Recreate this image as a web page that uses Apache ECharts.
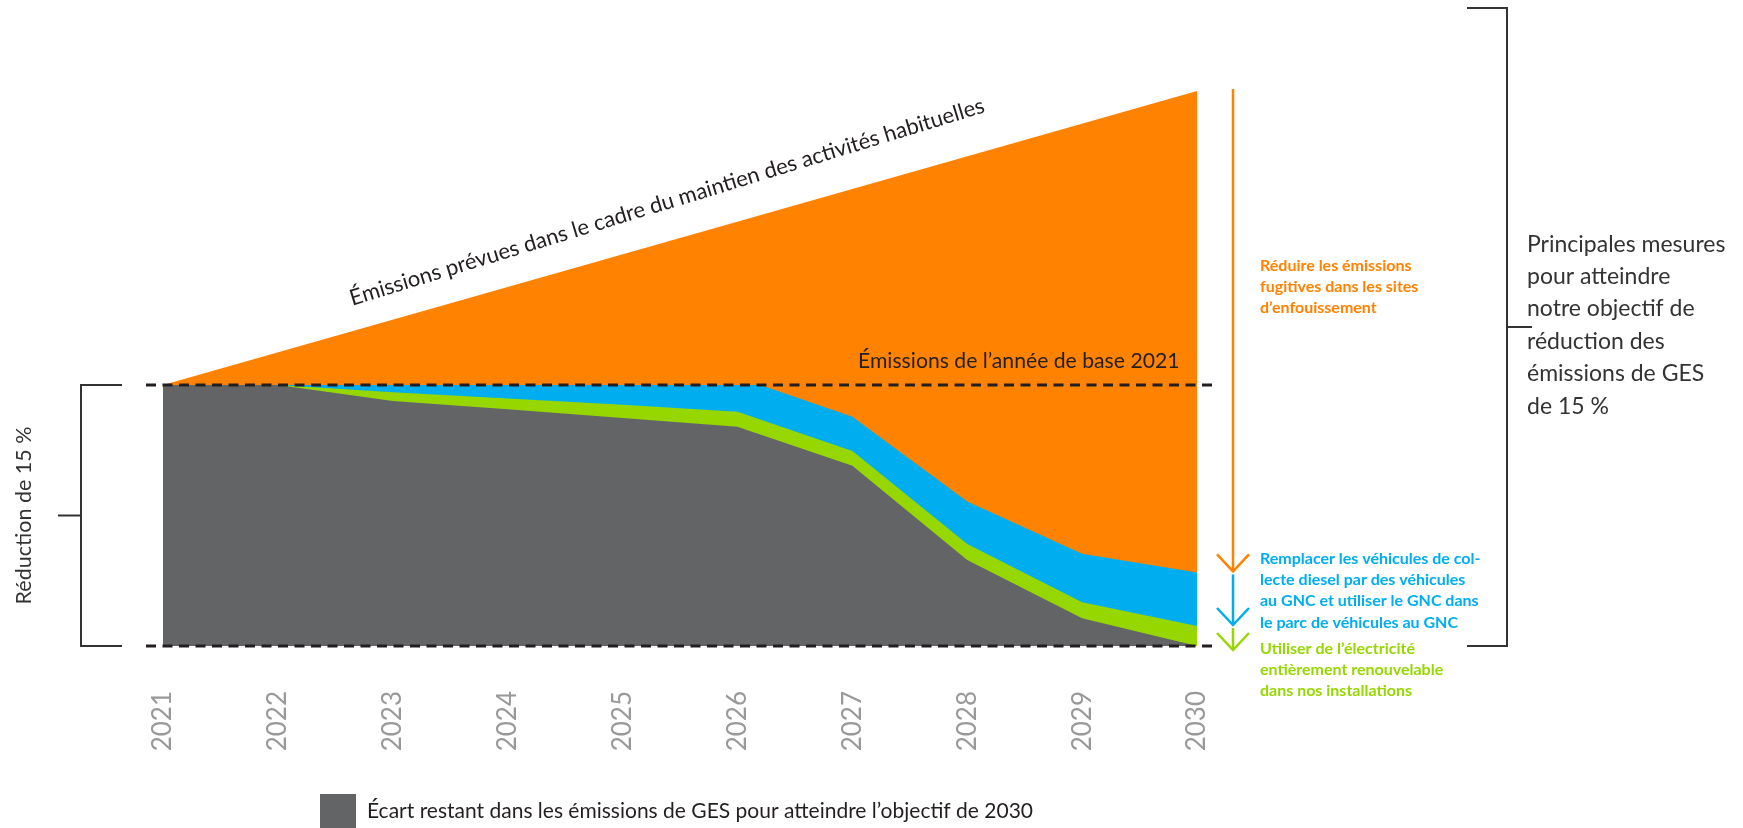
<!DOCTYPE html>
<html>
<head>
<meta charset="utf-8">
<script src="https://cdn.jsdelivr.net/npm/echarts@6/dist/echarts.min.js"></script>
<style>html,body{margin:0;padding:0;background:#fff}#c{width:1743px;height:828px}</style>
</head>
<body>
<div id="c"></div>
<script>
// ---- data ----
const years = [2021, 2022, 2023, 2024, 2025, 2026, 2027, 2028, 2029, 2030];
const grayValues  = [100, 100, 99.08, 98.60, 98.10, 97.60, 95.36, 89.94, 86.59, 85.00];
const greenValues = [100, 100, 99.58, 99.22, 98.86, 98.46, 96.21, 90.86, 87.51, 86.15];
const blueValues  = [100, 100, 100, 100, 100, 100, 98.18, 93.31, 90.30, 89.23];
const blueLeaveBase = [2026.2, 100];
const orangeYears = [2021, 2030];
const orangeValues = [100, 116.9];
const baseValue = 100;
const targetValue = 85;

const gapName = 'Écart restant dans les émissions de GES pour atteindre l’objectif de 2030';
const orangeLabel = 'Réduire les émissions\nfugitives dans les sites\nd’enfouissement';
const blueLabel = 'Remplacer les véhicules de col-\nlecte diesel par des véhicules\nau GNC et utiliser le GNC dans\nle parc de véhicules au GNC';
const greenLabel = 'Utiliser de l’électricité\nentièrement renouvelable\ndans nos installations';
const rightLabel = 'Principales mesures\npour atteindre\nnotre objectif de\nréduction des\némissions de GES\nde 15 %';
const leftLabel = 'Réduction de 15 %';
const bauLabel = 'Émissions prévues dans le cadre du maintien des activités habituelles';
const baseLabel = 'Émissions de l’année de base 2021';

const C = { orange: '#FF8200', blue: '#00AEEF', green: '#97D700', gray: '#636466', dark: '#231F20', text: '#333333' };

function pairs(xs, ys) { return xs.map((x, i) => [x, ys[i]]); }
const blueData = pairs(years, blueValues);
blueData.splice(6, 0, blueLeaveBase);

function areaSeries(name, data, color) {
  return {
    name, type: 'line', data, symbol: 'none', silent: true,
    color, itemStyle: { color },
    lineStyle: { width: 0, color },
    areaStyle: { color, opacity: 1, origin: 'start' }
  };
}

const chart = echarts.init(document.getElementById('c'));
const option = {
  animation: false,
  grid: { left: 163, right: 546, top: 37, bottom: 182 },
  xAxis: {
    type: 'value', min: 2021, max: 2030, interval: 1,
    axisLine: { show: false }, axisTick: { show: false }, splitLine: { show: false },
    axisLabel: { rotate: 90, margin: 45, color: '#999999', fontSize: 26, fontFamily: 'Lato', fontWeight: 'normal',
      formatter: v => String(v) }
  },
  yAxis: { type: 'value', min: 85, max: 120, show: false },
  legend: {
    data: [gapName], left: 320, top: 794, padding: 0, itemWidth: 36, itemHeight: 35, icon: 'rect',
    selectedMode: false,
    textStyle: { fontFamily: 'Lato', fontSize: 21, color: C.dark, padding: [0, 0, 0, 6] }
  },
  series: [
    areaSeries('orange', pairs(orangeYears, orangeValues), C.orange),
    areaSeries('blue', blueData, C.blue),
    areaSeries('green', pairs(years, greenValues), C.green),
    areaSeries(gapName, pairs(years, grayValues), C.gray)
  ]
};
chart.setOption(option);

const px = (x, y) => chart.convertToPixel({ gridIndex: 0 }, [x, y]);
const [xL, yBase] = px(years[0], baseValue);
const [xR, yTarget] = px(years[years.length - 1], targetValue);
const last = years.length - 1;
const yOrangeTop = px(orangeYears[1], orangeValues[1])[1];
const yBlueTop = px(years[last], blueValues[last])[1];
const yGreenTop = px(years[last], greenValues[last])[1];

const g = [];
function line(x1, y1, x2, y2, stroke, lw, dash) {
  g.push({ type: 'line', z: 100, silent: true, shape: { x1, y1, x2, y2 },
    style: { stroke, lineWidth: lw, lineDash: dash || null } });
}
function chevron(x, tip, color) {
  g.push({ type: 'polyline', z: 100, silent: true,
    shape: { points: [[x - 16, tip - 17], [x, tip], [x + 16, tip - 17]] },
    style: { stroke: color, lineWidth: 2.5, fill: null } });
}
function text(t, x, y, opts) {
  g.push(Object.assign({ type: 'text', z: 100, silent: true, x, y,
    style: Object.assign({ text: t, fontFamily: 'Lato' }, opts.style) }, opts.el || {}));
}

// dashed reference lines
line(xL - 17, yBase, xR + 19, yBase, C.dark, 3, [10, 6.5]);
line(xL - 17, yTarget, xR + 19, yTarget, C.dark, 3, [10, 6.5]);

// arrows
const ax = xR + 36;
line(ax, yOrangeTop - 2, ax, yBlueTop - 1, C.orange, 2.5);
chevron(ax, yBlueTop - 1, C.orange);
line(ax, yBlueTop + 2, ax, yGreenTop - 1, C.blue, 2.5);
chevron(ax, yGreenTop - 1, C.blue);
line(ax, yGreenTop + 2, ax, yTarget + 4, C.green, 2.5);
chevron(ax, yTarget + 4, C.green);

// left bracket
line(81, yBase, 81, yTarget, C.text, 2);
line(80, yBase, 122, yBase, C.text, 2);
line(80, yTarget, 122, yTarget, C.text, 2);
line(58, (yBase + yTarget) / 2, 81, (yBase + yTarget) / 2, C.text, 2);

// right bracket
line(1507, 8, 1507, yTarget, C.text, 2);
line(1467, 8, 1508, 8, C.text, 2);
line(1467, yTarget, 1508, yTarget, C.text, 2);
line(1507, (8 + yTarget) / 2, 1532, (8 + yTarget) / 2, C.text, 2);

// texts
text(orangeLabel, 1260, 255, { style: { fill: C.orange, fontSize: 16, fontWeight: 'bold', lineHeight: 21.3, verticalAlign: 'top' } });
text(blueLabel, 1260, 548, { style: { fill: C.blue, fontSize: 16, fontWeight: 'bold', lineHeight: 21.3, verticalAlign: 'top' } });
text(greenLabel, 1260, 638, { style: { fill: C.green, fontSize: 16, fontWeight: 'bold', lineHeight: 21.3, verticalAlign: 'top' } });
text(rightLabel, 1527, 228, { style: { fill: C.text, fontSize: 23, lineHeight: 32.4, verticalAlign: 'top' } });
text(leftLabel, 24, (yBase + yTarget) / 2, { style: { fill: C.text, fontSize: 21.5, align: 'center', verticalAlign: 'middle' }, el: { rotation: Math.PI / 2 } });
text(baseLabel, 858, 361, { style: { fill: C.dark, fontSize: 21.2, verticalAlign: 'middle' } });
text(bauLabel, 667, 202, { style: { fill: C.dark, fontSize: 22, align: 'center', verticalAlign: 'middle' }, el: { rotation: 17 * Math.PI / 180 } });

chart.setOption({ graphic: { elements: g } });
</script>
</body>
</html>
